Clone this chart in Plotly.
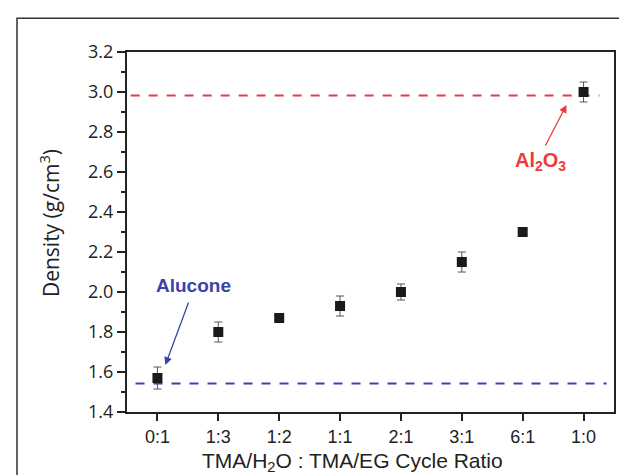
import plotly.graph_objects as go

categories = ["0:1", "1:3", "1:2", "1:1", "2:1", "3:1", "6:1", "1:0"]
density = [1.57, 1.80, 1.87, 1.93, 2.00, 2.15, 2.30, 3.00]
density_err = [0.055, 0.05, 0.0, 0.05, 0.04, 0.05, 0.0, 0.05]
al2o3_ref = 2.983
alucone_ref = 1.543
y_ticks = [1.4, 1.6, 1.8, 2.0, 2.2, 2.4, 2.6, 2.8, 3.0, 3.2]
y_minor = [1.5, 1.7, 1.9, 2.1, 2.3, 2.5, 2.7, 2.9, 3.1]

x_idx = list(range(len(categories)))
FONT_X = "Liberation Sans, Arial"
FONT_Y = "Open Sans, Liberation Sans"

fig = go.Figure()

# reference dashed lines
fig.add_trace(go.Scatter(x=[-0.44, 7.26], y=[al2o3_ref, al2o3_ref], mode="lines",
                         line=dict(color="#f03a3a", width=2, dash="dash"),
                         hoverinfo="skip", showlegend=False))
fig.add_trace(go.Scatter(x=[-0.36, 7.38], y=[alucone_ref, alucone_ref], mode="lines",
                         line=dict(color="#3a44a8", width=2, dash="dash"),
                         hoverinfo="skip", showlegend=False))

fig.add_trace(go.Scatter(
    x=x_idx, y=density, mode="markers",
    marker=dict(symbol="square", size=10, color="#1a1a1a"),
    error_y=dict(type="data", array=density_err, visible=True,
                 color="#555555", thickness=1, width=4),
    showlegend=False))

fig.update_xaxes(
    range=[-0.5, 7.5], tickmode="array", tickvals=x_idx, ticktext=categories,
    ticks="outside", ticklen=7, tickwidth=2, tickcolor="#222",
    showline=True, linewidth=2, linecolor="#222", mirror=True,
    showgrid=False, zeroline=False,
    tickfont=dict(family=FONT_X, size=18, color="#222"),
)
fig.update_yaxes(
    range=[1.4, 3.2], tickmode="array",
    tickvals=y_ticks, ticktext=[f"{v:.1f}" for v in y_ticks],
    ticks="outside", ticklen=8, tickwidth=2, tickcolor="#222",
    minor=dict(tickvals=y_minor, ticks="outside", ticklen=4, tickwidth=1.5, tickcolor="#222"),
    showline=True, linewidth=2, linecolor="#222", mirror=True,
    showgrid=False, zeroline=False,
    tickfont=dict(family=FONT_Y, size=18, color="#222"),
)

# axis titles
fig.add_annotation(x=0.464, y=-0.14, xref="paper", yref="paper",
                   text="TMA/H<sub>2</sub>O : TMA/EG Cycle Ratio", showarrow=False,
                   xanchor="center", yanchor="middle",
                   font=dict(family=FONT_X, size=21, color="#222"))
fig.add_annotation(x=-0.16, y=0.525, xref="paper", yref="paper",
                   text="Density (g/cm<sup>3</sup>)", showarrow=False, textangle=-90,
                   xanchor="center", yanchor="middle",
                   font=dict(family=FONT_Y, size=21, color="#222"))

# annotations with arrows
fig.add_annotation(x=0.13, y=1.635, xref="x", yref="y", ax=0.52, ay=1.955, axref="x", ayref="y",
                   showarrow=True, arrowhead=2, arrowsize=1.2, arrowwidth=1.3,
                   arrowcolor="#3a44a8", text="")
fig.add_annotation(x=0.59, y=2.035, xref="x", yref="y", text="<b>Alucone</b>",
                   showarrow=False,
                   font=dict(family=FONT_X, size=19, color="#3a44a8"))
fig.add_annotation(x=6.72, y=2.935, xref="x", yref="y", ax=6.36, ay=2.725, axref="x", ayref="y",
                   showarrow=True, arrowhead=2, arrowsize=1.2, arrowwidth=1.3,
                   arrowcolor="#f03a3a", text="")
fig.add_annotation(x=6.30, y=2.655, xref="x", yref="y", text="<b>Al<sub>2</sub>O<sub>3</sub></b>",
                   showarrow=False,
                   font=dict(family=FONT_X, size=20, color="#f03a3a"))

# outer frame
fig.add_shape(type="rect", xref="paper", yref="paper",
              x0=-0.2259, y0=-0.22, x1=1.06, y1=1.094,
              line=dict(color="#333333", width=1.5), fillcolor="rgba(0,0,0,0)")

fig.update_layout(
    width=627, height=475,
    margin=dict(l=119, r=21, t=44, b=71),
    plot_bgcolor="white", paper_bgcolor="white",
    showlegend=False,
)

fig.write_html("out.html")
